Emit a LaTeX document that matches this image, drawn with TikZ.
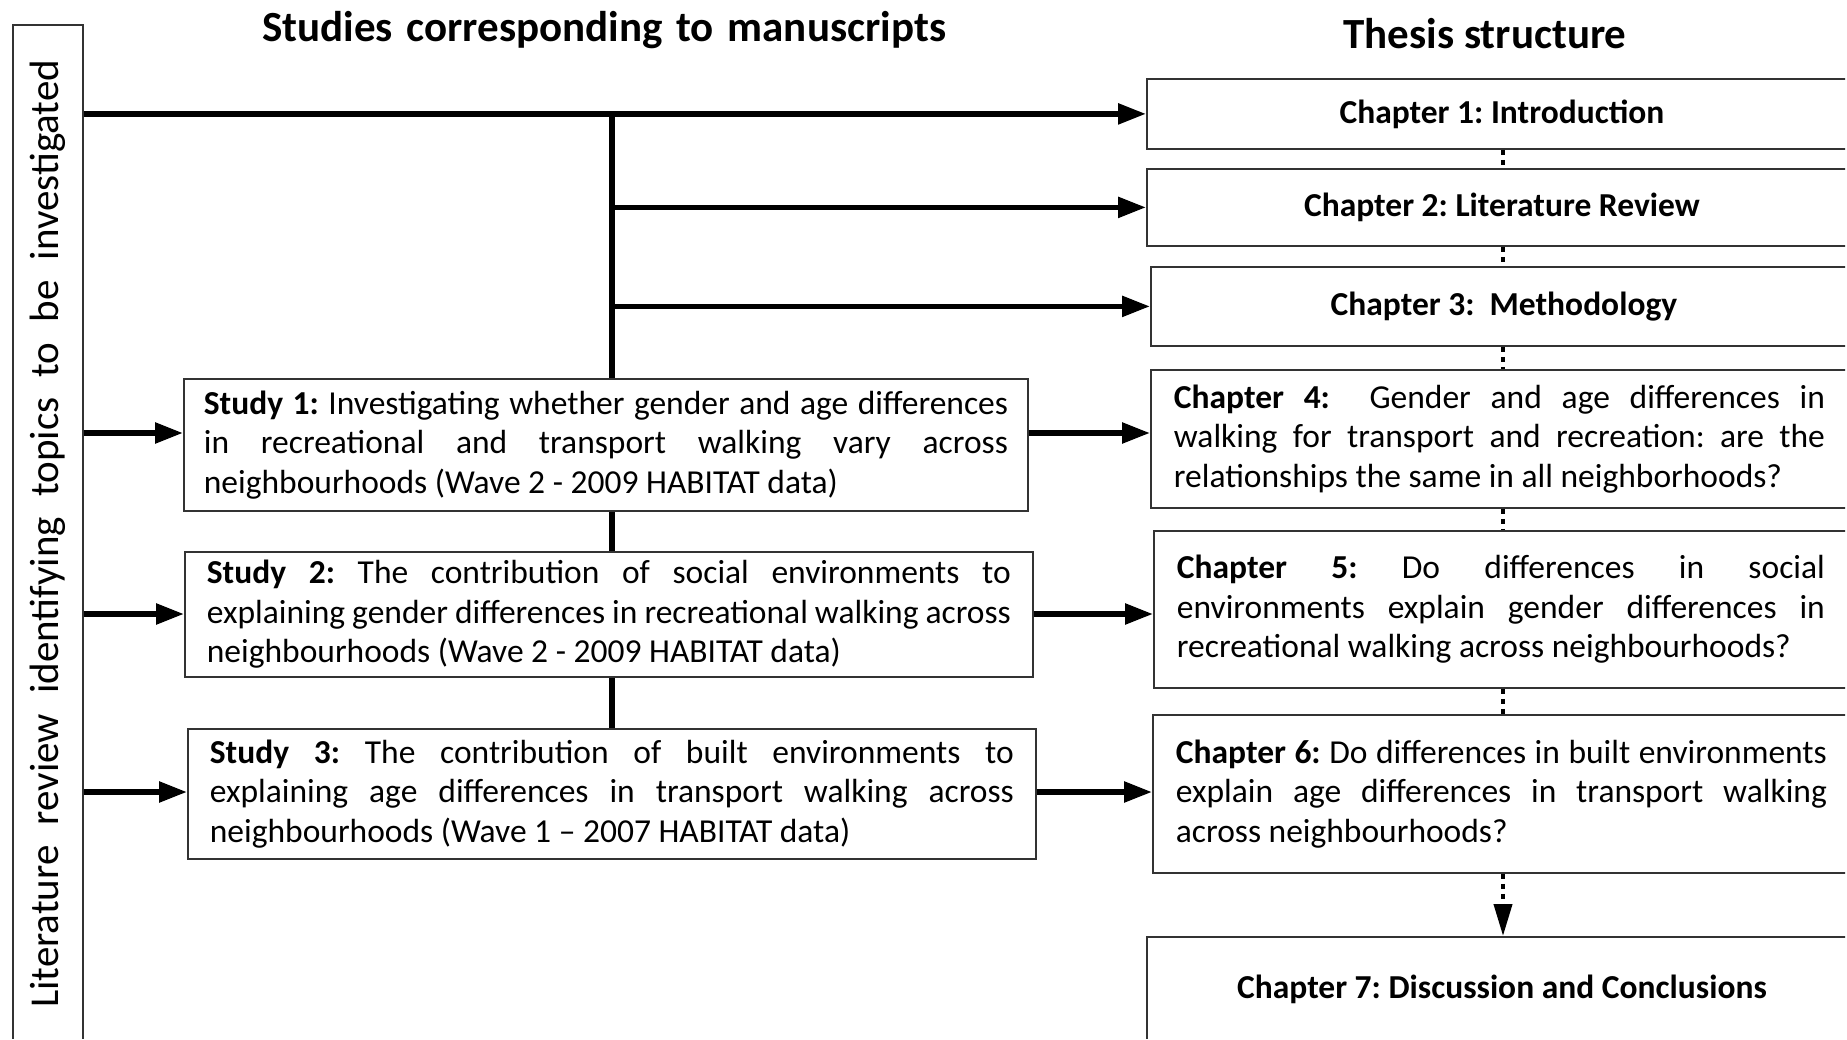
\documentclass[tikz,border=0pt]{standalone}
\usepackage{fontspec}
\setmainfont{Carlito}
\usetikzlibrary{arrows.meta}
\frenchspacing
\newcommand\bodyfont{\fontsize{33.5pt}{39.5pt}\selectfont}
\newcommand\titlefont{\fontsize{43pt}{50pt}\selectfont\bfseries}
\newcommand\jline[1]{\makebox[\linewidth][s]{#1}}
\begin{document}
\begin{tikzpicture}[x=1pt,y=-1pt,
  box/.style={draw=black!80, line width=1.8pt, inner xsep=20pt, inner ysep=0pt, anchor=north west, font=\bodyfont},
  chap/.style={box, inner xsep=23pt},
  arr/.style={line width=5.5pt, -{Triangle[length=28pt,width=20pt]}},
  trunk/.style={line width=5.5pt},
  dots/.style={line width=4pt, dash pattern=on 5pt off 5pt},
]
\useasboundingbox (0,0) rectangle (1847,1040);
\clip (0,0) rectangle (1845,1038);

% titles
\node[font=\titlefont, inner sep=0pt] (t1) at (604,30) {\makebox[684pt][s]{Studies corresponding to manuscripts}};
\node[font=\titlefont, inner sep=0pt] (t2) at (1485,34) {Thesis structure};

% left box
\node[draw=black!80, line width=1.8pt, minimum width=70pt, minimum height=1018pt, inner sep=0pt, anchor=north west] (lit) at (12,24)
  {\rotatebox{90}{\fontsize{41pt}{50pt}\selectfont\makebox[948pt][s]{Literature review identifying topics to be investigated}}};

% chapter boxes
\node[chap, minimum width=710pt, minimum height=70pt] (ch1) at (1146,78) {\textbf{Chapter 1: Introduction}};
\node[chap, minimum width=710pt, minimum height=77pt] (ch2) at (1146,168) {\textbf{Chapter 2: Literature Review}};
\node[chap, minimum width=706pt, minimum height=79pt] (ch3) at (1150,266) {\textbf{Chapter 3:\ \ Methodology}};
\node[chap, minimum height=138pt] (ch4) at (1150,369) {\parbox{651pt}{\jline{\textbf{Chapter 4:}\ \ Gender and age differences in}\\\jline{walking for transport and recreation: are the}\\relationships the same in all neighborhoods?}};
\node[chap, minimum height=157pt] (ch5) at (1153,530) {\parbox{648pt}{\jline{\textbf{Chapter 5:} Do differences in social}\\\jline{environments explain gender differences in}\\recreational walking across neighbourhoods?}};
\node[chap, minimum height=158pt] (ch6) at (1152,714) {\parbox{651pt}{\jline{\textbf{Chapter 6:} Do differences in built environments}\\\jline{explain age differences in transport walking}\\across neighbourhoods?}};
\node[chap, minimum width=710pt, minimum height=104pt] (ch7) at (1146,936) {\textbf{Chapter 7: Discussion and Conclusions}};

% study boxes
\node[box, minimum width=844pt, minimum height=132pt] (s1) at (183,378) {\parbox{804pt}{\jline{\textbf{Study 1:} Investigating whether gender and age differences}\\\jline{in recreational and transport walking vary across}\\neighbourhoods (Wave 2 - 2009 HABITAT data)}};
\node[box, minimum width=848pt, minimum height=125pt] (s2) at (184,551) {\parbox{804pt}{\jline{\textbf{Study 2:} The contribution of social environments to}\\\jline{explaining gender differences in recreational walking across}\\neighbourhoods (Wave 2 - 2009 HABITAT data)}};
\node[box, minimum width=848pt, minimum height=130pt] (s3) at (187,728) {\parbox{804pt}{\jline{\textbf{Study 3:} The contribution of built environments to}\\\jline{explaining age differences in transport walking across}\\neighbourhoods (Wave 1 -- 2007 HABITAT data)}};

% helper coordinates
\coordinate (tx) at (612,0);
\coordinate (dx) at (1503,0);
\coordinate (r1) at (0,433);
\coordinate (r2) at (0,614);
\coordinate (r3) at (0,792);

% top line and trunk
\draw[arr] (ch1.west -| lit.east) -- (ch1.west);
\draw[trunk] (ch1.west -| tx) -- (s1.north -| tx);
\draw[arr] (ch2.west -| tx) -- (ch2.west);
\draw[arr] (ch3.west -| tx) -- (ch3.west);
\draw[trunk] (s1.south -| tx) -- (s2.north -| tx);
\draw[trunk] (s2.south -| tx) -- (s3.north -| tx);

% left arrows into studies
\draw[arr] (lit.east |- r1) -- (s1.west |- r1);
\draw[arr] (lit.east |- r2) -- (s2.west |- r2);
\draw[arr] (lit.east |- r3) -- (s3.west |- r3);

% studies to chapters
\draw[arr] (s1.east |- r1) -- (ch4.west |- r1);
\draw[arr] (s2.east |- r2) -- (ch5.west |- r2);
\draw[arr] (s3.east |- r3) -- (ch6.west |- r3);

% dotted chapter links
\draw[dots] (ch1.south -| dx) -- (ch2.north -| dx);
\draw[dots] (ch2.south -| dx) -- (ch3.north -| dx);
\draw[dots] (ch3.south -| dx) -- (ch4.north -| dx);
\draw[dots] (ch4.south -| dx) -- (ch5.north -| dx);
\draw[dots] (ch5.south -| dx) -- (ch6.north -| dx);
\draw[dots, -{Triangle[length=32pt,width=18pt]}] (ch6.south -| dx) -- (ch7.north -| dx);
\end{tikzpicture}
\end{document}
